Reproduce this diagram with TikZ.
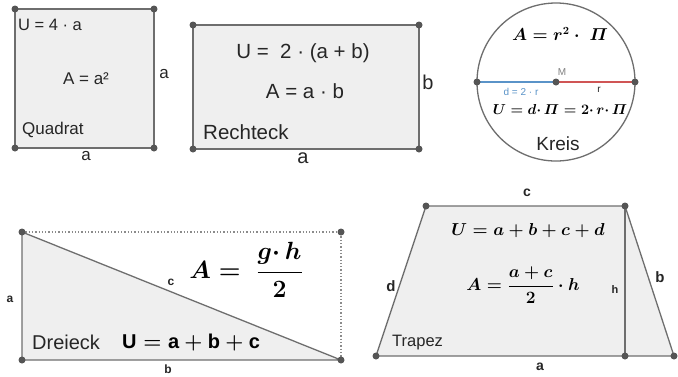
\documentclass[tikz,border=0pt]{standalone}
\usepackage{amsmath}
\usepackage[no-math]{fontspec}
\setmainfont{Liberation Sans}
\definecolor{edgegray}{HTML}{6E6E6E}
\definecolor{dotgray}{HTML}{555555}
\definecolor{shapefill}{HTML}{EFEFEF}
\definecolor{dblue}{HTML}{5A93C8}
\definecolor{rred}{HTML}{D05555}
\newcommand{\myfs}[1]{\fontsize{#1}{#1}\selectfont}
\newsavebox{\boxKA}
\newsavebox{\boxKU}
\newsavebox{\boxDA}
\newsavebox{\boxDU}
\newsavebox{\boxTU}
\newsavebox{\boxTA}
\begin{document}
\sbox{\boxKA}{\myfs{16}\boldmath$A = r^{2}\cdot\;\varPi$}
\sbox{\boxKU}{\myfs{15.8}\boldmath$U = d{\cdot}\,\varPi = 2{\cdot}\,r{\cdot}\,\varPi$}
\sbox{\boxDA}{\myfs{24}\boldmath$A =\;\dfrac{g{\cdot}\,h}{2}$}
\sbox{\boxDU}{\myfs{20}\boldmath$\textbf{U} = \textbf{a} + \textbf{b} + \textbf{c}$}
\sbox{\boxTU}{\myfs{17.7}\boldmath$U = a + b + c + d$}
\sbox{\boxTA}{\myfs{17.5}\boldmath$A = \dfrac{a+c}{2}\cdot h$}
\begin{tikzpicture}[x=1pt,y=-1pt,
  edge/.style={draw=edgegray, line width=1.3pt},
  dotline/.style={draw=edgegray!80, line width=1.3pt, dotted},
  pt/.style={circle, fill=dotgray, inner sep=0pt, minimum size=7pt},
  lbl/.style={inner sep=0pt, text=black!85}]
\useasboundingbox (0,0) rectangle (678,376);
% ---------- Quadrat ----------
\coordinate (q1) at (15,9); \coordinate (q2) at (154,9);
\coordinate (q3) at (154,148); \coordinate (q4) at (15,148);
\fill[shapefill] (q1) -- (q2) -- (q3) -- (q4) -- cycle;
\draw[edge] (q1) -- (q2) -- (q3) -- (q4) -- cycle;
\foreach \p in {q1,q2,q3,q4} \node[pt] at (\p) {};
\node[lbl, anchor=west, font=\myfs{16.5}] (qu) at (18,25) {U = 4 · a};
\node[lbl, font=\myfs{17}] (qa) at (86,79) {A = a²};
\node[lbl, anchor=west, font=\myfs{17}] (qn) at (22,130) {Quadrat};
\node[lbl, font=\myfs{17}] (qr) at (164,74) {a};
\node[lbl, font=\myfs{17}] (qb) at (86,156) {a};
% ---------- Rechteck ----------
\coordinate (r1) at (193,25); \coordinate (r2) at (419,25);
\coordinate (r3) at (419,149); \coordinate (r4) at (193,149);
\fill[shapefill] (r1) -- (r2) -- (r3) -- (r4) -- cycle;
\draw[edge] (r1) -- (r2) -- (r3) -- (r4) -- cycle;
\foreach \p in {r1,r2,r3,r4} \node[pt] at (\p) {};
\node[lbl, font=\myfs{20.5}] (ru) at (303,53) {U =\ \ 2 · (a + b)};
\node[lbl, font=\myfs{20.5}] (ra) at (305,91) {A = a · b};
\node[lbl, anchor=west, font=\myfs{20.5}] (rn) at (203,132) {Rechteck};
\node[lbl, font=\myfs{20}] (rr) at (428,82) {b};
\node[lbl, font=\myfs{20}] (rb) at (303,158) {a};
% ---------- Kreis ----------
\coordinate (M) at (556,82);
\coordinate (kl) at (477,82); \coordinate (kr) at (635,82);
\draw[edge, fill=white] (M) circle (79pt);
\draw[dblue, line width=1.5pt] (kl) -- (M);
\draw[rred, line width=1.5pt] (M) -- (kr);
\foreach \p in {kl,M,kr} \node[pt] at (\p) {};
\node[lbl, text=gray, font=\myfs{10}] (mlab) at (562,72) {M};
\node[lbl, text=dblue, font=\myfs{10}] (dlab) at (521,92) {d = 2 · r};
\node[lbl, font=\myfs{10}] (rlab) at (599,90) {r};
\node[lbl] (ka) at (560,34) {\usebox{\boxKA}};
\node[lbl] (ku) at (560,109) {\usebox{\boxKU}};
\node[lbl, font=\myfs{19}] (kn) at (558,144) {Kreis};
% ---------- Dreieck ----------
\coordinate (d1) at (22,232); \coordinate (d2) at (22,360);
\coordinate (d3) at (341,360); \coordinate (d4) at (341,232);
\fill[shapefill] (d1) -- (d2) -- (d3) -- cycle;
\draw[dotline] (d1) -- (d4) -- (d3);
\draw[edge] (d1) -- (d2) -- (d3) -- cycle;
\foreach \p in {d1,d2,d3,d4} \node[pt] at (\p) {};
\node[lbl, font=\bfseries\myfs{12}] (da) at (10,299) {a};
\node[lbl, font=\bfseries\myfs{12}] (dc) at (171,282) {c};
\node[lbl, font=\bfseries\myfs{12}] (db) at (168,369) {b};
\node[lbl] (dA) at (246,270) {\usebox{\boxDA}};
\node[lbl, anchor=west, font=\myfs{20}] (dn) at (32,342) {Dreieck};
\node[lbl, anchor=west] (dU) at (122,343) {\usebox{\boxDU}};
% ---------- Trapez ----------
\coordinate (t1) at (426,206); \coordinate (t2) at (625,206);
\coordinate (t3) at (674,356); \coordinate (t4) at (376,356);
\coordinate (tf) at (625,356);
\fill[shapefill] (t1) -- (t2) -- (t3) -- (t4) -- cycle;
\draw[edge] (t1) -- (t2) -- (t3) -- (t4) -- cycle;
\draw[edge] (t2) -- (tf);
\foreach \p in {t1,t2,t3,t4,tf} \node[pt] at (\p) {};
\node[lbl, font=\bfseries\myfs{14}] (tc) at (527,193) {c};
\node[lbl, font=\bfseries\myfs{15}] (td) at (391,286) {d};
\node[lbl, font=\bfseries\myfs{11}] (th) at (615,290) {h};
\node[lbl, font=\bfseries\myfs{15}] (tb) at (660,277) {b};
\node[lbl, font=\bfseries\myfs{14}] (ta) at (540,367) {a};
\node[lbl] (tU) at (528,231) {\usebox{\boxTU}};
\node[lbl] (tA) at (523,285) {\usebox{\boxTA}};
\node[lbl, anchor=west, font=\myfs{16.5}] (tn) at (392,343) {Trapez};
\end{tikzpicture}
\end{document}
